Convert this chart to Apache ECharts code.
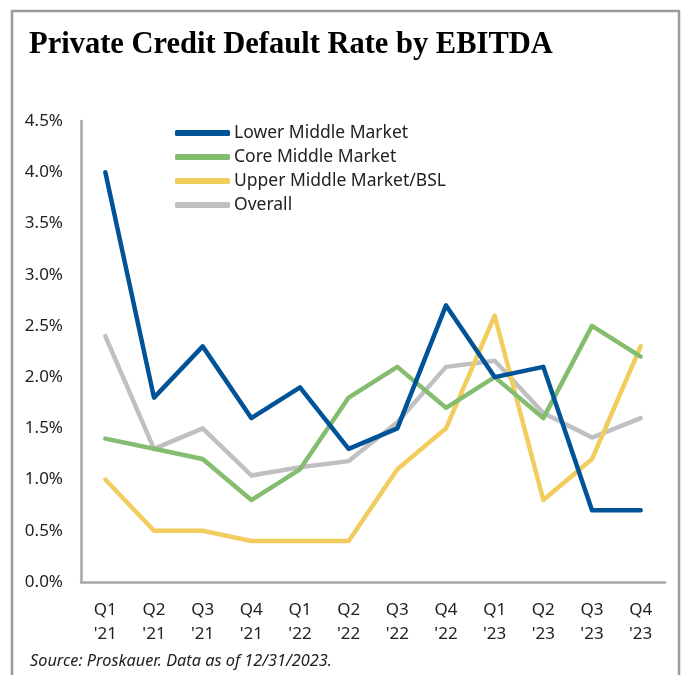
<!DOCTYPE html>
<html>
<head>
<meta charset="utf-8">
<script src="https://cdn.jsdelivr.net/npm/echarts@6/dist/echarts.min.js"></script>
<style>
  html, body { margin: 0; padding: 0; background: #fff; }
  #chart { width: 688px; height: 675px; }
</style>
</head>
<body>
<div id="chart"></div>
<script>
// Quarter labels (two lines: quarter / year)
const quarters = ["Q1\n'21", "Q2\n'21", "Q3\n'21", "Q4\n'21", "Q1\n'22", "Q2\n'22",
                  "Q3\n'22", "Q4\n'22", "Q1\n'23", "Q2\n'23", "Q3\n'23", "Q4\n'23"];

// Default rates in percent
const lowerMiddle = [4.0, 1.8, 2.3, 1.6, 1.9, 1.3, 1.5, 2.7, 2.0, 2.1, 0.7, 0.7];
const coreMiddle  = [1.4, 1.3, 1.2, 0.8, 1.1, 1.8, 2.1, 1.7, 2.0, 1.6, 2.5, 2.2];
const upperMiddle = [1.0, 0.5, 0.5, 0.4, 0.4, 0.4, 1.1, 1.5, 2.6, 0.8, 1.2, 2.3];
const overall     = [2.4, 1.3, 1.5, 1.04, 1.12, 1.18, 1.56, 2.1, 2.16, 1.65, 1.41, 1.6];

const seriesNames = ["Lower Middle Market", "Core Middle Market", "Upper Middle Market/BSL", "Overall"];
const seriesColors = ["#005396", "#84BD6F", "#F2CC5C", "#C0C0C2"];
const seriesData = [lowerMiddle, coreMiddle, upperMiddle, overall];

const font = "'Noto Sans', 'Open Sans', sans-serif";

const chart = echarts.init(document.getElementById('chart'));
chart.setOption({
  animation: false,
  backgroundColor: '#fff',
  title: {
    text: 'Private Credit Default Rate by EBITDA',
    left: 29, top: 30, padding: 0,
    textStyle: { fontFamily: "'Liberation Serif', 'DejaVu Serif', serif", fontWeight: 'bold', fontSize: 30.5, color: '#000' }
  },
  graphic: [
    { type: 'rect', shape: { x: 12, y: 11, width: 667, height: 700 },
      style: { fill: 'none', stroke: '#9A9A9A', lineWidth: 2.5 }, silent: true },
    { type: 'text', left: 30, top: 653,
      style: { text: 'Source: Proskauer. Data as of 12/31/2023.', font: "italic 16.3px 'Noto Sans', sans-serif", fill: '#222' } }
  ],
  legend: {
    orient: 'vertical',
    left: 175, top: 124, padding: 0,
    itemWidth: 55, itemHeight: 6, itemGap: 6,
    icon: 'roundRect',
    data: seriesNames,
    textStyle: { fontFamily: font, fontSize: 17.5, color: '#222', lineHeight: 18, padding: [0, 0, 0, -1] }
  },
  grid: { left: 81, right: 23, top: 121, bottom: 93 },
  xAxis: {
    type: 'category',
    data: quarters,
    boundaryGap: true,
    axisLine: { lineStyle: { color: '#A6A6A6', width: 2.5 } },
    axisTick: { show: false },
    axisLabel: { fontFamily: font, fontSize: 17, color: '#222', lineHeight: 24, margin: 16, interval: 0 }
  },
  yAxis: {
    type: 'value',
    min: 0, max: 4.5, interval: 0.5,
    axisLine: { show: true, lineStyle: { color: '#A6A6A6', width: 2.5 } },
    axisTick: { show: false },
    splitLine: { show: false },
    axisLabel: { fontFamily: font, fontSize: 17, color: '#222', margin: 18,
                 formatter: v => v.toFixed(1) + '%' }
  },
  series: seriesData.map((d, i) => ({
    name: seriesNames[i],
    type: 'line',
    data: d,
    color: seriesColors[i],
    showSymbol: false,
    symbol: 'none',
    lineStyle: { width: 4.5, color: seriesColors[i], cap: 'round', join: 'round' },
    z: 10 - i
  }))
});
</script>
</body>
</html>
